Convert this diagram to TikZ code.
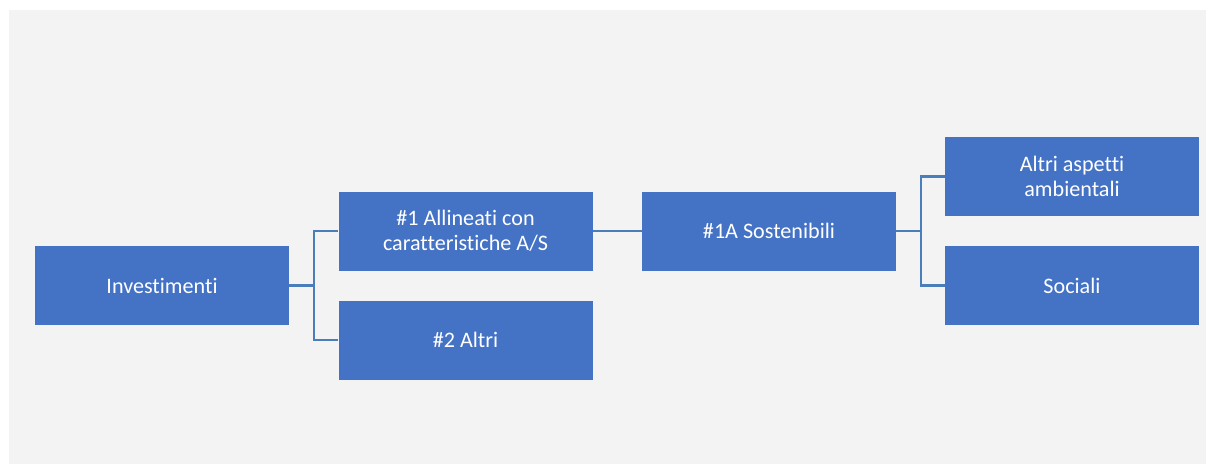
\documentclass[tikz,border=0pt]{standalone}
\usepackage{fontspec}
\setmainfont{Carlito}[Ligatures=NoCommon,RawFeature={-liga;-clig;-calt;-dlig}]
\usetikzlibrary{positioning,calc}
\definecolor{boxBlue}{RGB}{68,114,196}
\definecolor{lineBlue}{RGB}{74,126,187}
\definecolor{panelGray}{RGB}{243,243,243}
\tikzset{
  catbox/.style={fill=boxBlue, text=white, minimum width=190.5pt, minimum height=59.25pt,
    align=center, inner sep=0pt, font=\fontsize{16.6}{18.8}\selectfont},
  link/.style={draw=lineBlue, line width=1.6pt}
}

\begin{document}
\begin{tikzpicture}[x=0.75pt,y=-0.75pt]
  % page and panel
  \useasboundingbox (0,0) rectangle (1206,464);
  \fill[panelGray] (9,10) rectangle (1206,464);
  % boxes
  \node[catbox] (inv)   at (162,285.5)  {Investimenti};
  \node[catbox] (allin) at (465.5,231)  {\#1 Allineati con\\caratteristiche A/S};
  \node[catbox] (other) at (465.5,340)  {\#2 Altri};
  \node[catbox] (sost)  at (769,231)    {\#1A Sostenibili};
  \node[catbox] (amb)   at (1072,176.5) {Altri aspetti\\ambientali};
  \node[catbox] (soc)   at (1072,285.5) {Sociali};
  % connectors
  \coordinate (busA) at (314,285.5);
  \coordinate (busB) at (921,231);
  \draw[link] (inv.east) -- (busA) |- (allin.west);
  \draw[link] (busA) |- (other.west);
  \draw[link] (allin.east) -- (sost.west);
  \draw[link] (sost.east) -- (busB) |- (amb.west);
  \draw[link] (busB) |- (soc.west);
\end{tikzpicture}
\end{document}
